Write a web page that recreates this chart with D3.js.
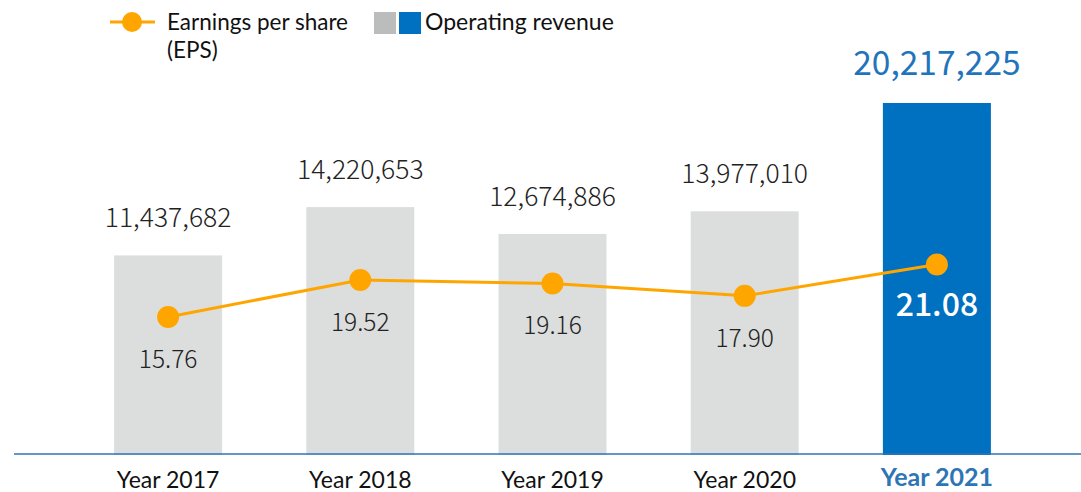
<!DOCTYPE html>
<html>
<head>
<meta charset="utf-8">
<script src="https://cdn.jsdelivr.net/npm/d3@7"></script>
<style>
  html, body { margin: 0; padding: 0; background: #fff; }
  svg { display: block; }
</style>
</head>
<body>
<svg id="chart" width="1081" height="492"></svg>
<script>
// Yearly operating revenue (bars) and EPS (line)
const years = ["Year 2017", "Year 2018", "Year 2019", "Year 2020", "Year 2021"];
const revenue = [11437682, 14220653, 12674886, 13977010, 20217225];
const eps = [15.76, 19.52, 19.16, 17.90, 21.08];
const legendLabels = ["Earnings per share", "(EPS)", "Operating revenue"];

const W = 1081, H = 492;
const baseline = 454;
const highlight = years.length - 1;

const grey = "#dcdddd", blue = "#0070c0", orange = "#ffa500";
const labelFont = "'Noto Sans CJK TC', 'Noto Sans', sans-serif";
const axisFont = "Lato, 'Open Sans', sans-serif";

const svg = d3.select("#chart");

const x = d3.scaleBand()
  .domain(years)
  .range([18, 1087])
  .paddingInner(0.438)
  .paddingOuter(0.5);

const yRev = d3.scaleLinear().domain([0, 20217225]).range([baseline, 103]);
const yEps = d3.scaleLinear().domain([0, 25]).range([472, 226]);

const cx = d => x(d) + x.bandwidth() / 2;
const fmt = d3.format(",");

// bars
svg.append("g").selectAll("rect")
  .data(years)
  .join("rect")
  .attr("x", d => x(d))
  .attr("y", (d, i) => yRev(revenue[i]))
  .attr("width", x.bandwidth())
  .attr("height", (d, i) => baseline + 1 - yRev(revenue[i]))
  .attr("fill", (d, i) => i === highlight ? blue : grey);

// revenue labels above bars
svg.append("g").selectAll("text")
  .data(years)
  .join("text")
  .attr("x", d => cx(d))
  .attr("y", (d, i) => yRev(revenue[i]) - 28)
  .attr("text-anchor", "middle")
  .attr("font-family", labelFont)
  .attr("font-weight", (d, i) => i === highlight ? 400 : 300)
  .attr("font-size", (d, i) => i === highlight ? 33.5 : 26.5)
  .attr("fill", (d, i) => i === highlight ? "#1f74bb" : "#222")
  .text((d, i) => fmt(revenue[i]));

// x axis baseline
svg.append("line")
  .attr("x1", 14).attr("x2", W)
  .attr("y1", baseline).attr("y2", baseline)
  .attr("stroke", "#2e75b6")
  .attr("stroke-width", 1.5);

// category labels
const xAxis = d3.axisBottom(x).tickSize(0).tickPadding(0);
const axisG = svg.append("g")
  .attr("transform", `translate(0,${baseline})`)
  .call(xAxis);
axisG.select(".domain").remove();
axisG.selectAll("text")
  .attr("dy", null)
  .attr("y", (d, i) => i === highlight ? 32 : 34)
  .attr("font-family", axisFont)
  .attr("font-size", (d, i) => i === highlight ? 25 : 23)
  .attr("font-weight", (d, i) => i === highlight ? 700 : 400)
  .attr("fill", (d, i) => i === highlight ? "#2e75b6" : "#111");

// EPS line
const line = d3.line()
  .x((d, i) => cx(years[i]))
  .y(d => yEps(d));

svg.append("path")
  .datum(eps)
  .attr("d", line)
  .attr("fill", "none")
  .attr("stroke", orange)
  .attr("stroke-width", 3);

svg.append("g").selectAll("circle")
  .data(eps)
  .join("circle")
  .attr("cx", (d, i) => cx(years[i]))
  .attr("cy", d => yEps(d))
  .attr("r", 11)
  .attr("fill", orange);

// EPS labels below points
svg.append("g").selectAll("text")
  .data(eps)
  .join("text")
  .attr("x", (d, i) => cx(years[i]))
  .attr("y", d => yEps(d) + 51)
  .attr("text-anchor", "middle")
  .attr("font-family", labelFont)
  .attr("font-weight", (d, i) => i === highlight ? 500 : 300)
  .attr("font-size", (d, i) => i === highlight ? 32 : 24.5)
  .attr("fill", (d, i) => i === highlight ? "#fff" : "#222")
  .text(d => d.toFixed(2));

// legend
const lg = svg.append("g");
lg.append("line")
  .attr("x1", 110).attr("x2", 155)
  .attr("y1", 22).attr("y2", 22)
  .attr("stroke", orange).attr("stroke-width", 3);
lg.append("circle")
  .attr("cx", 132).attr("cy", 22).attr("r", 10)
  .attr("fill", orange);
lg.append("text")
  .attr("x", 167).attr("y", 30)
  .attr("font-family", axisFont).attr("font-size", 22.5).attr("fill", "#111")
  .text(legendLabels[0]);
lg.append("text")
  .attr("x", 167).attr("y", 58)
  .attr("font-family", axisFont).attr("font-size", 22.5).attr("fill", "#111")
  .text(legendLabels[1]);
lg.append("rect")
  .attr("x", 374).attr("y", 12).attr("width", 22).attr("height", 22)
  .attr("fill", "#bbbcbc");
lg.append("rect")
  .attr("x", 399).attr("y", 12).attr("width", 22).attr("height", 22)
  .attr("fill", blue);
lg.append("text")
  .attr("x", 425).attr("y", 30)
  .attr("font-family", axisFont).attr("font-size", 23).attr("fill", "#111")
  .text(legendLabels[2]);
</script>
</body>
</html>
